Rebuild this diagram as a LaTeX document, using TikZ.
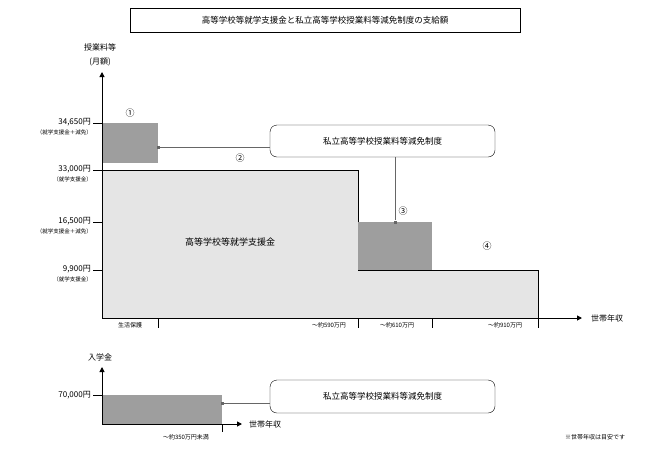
\documentclass[tikz,border=0pt]{standalone}
\usepackage{fontspec}
\setmainfont{Noto Sans CJK JP}
\usetikzlibrary{arrows.meta}
\begin{document}
\begin{tikzpicture}[x=1pt,y=-1pt,
  lab/.style={font=\fontsize{8}{9}\selectfont,inner sep=1pt},
  sub/.style={font=\fontsize{5.5}{6}\selectfont,inner sep=0pt},
  xlab/.style={font=\fontsize{6}{7}\selectfont,inner sep=1pt},
  dark/.style={fill=black!38},
  rbox/.style={draw,rounded corners=7pt,font=\fontsize{8.5}{10}\selectfont},
  conn/.style={draw=black!60,line width=0.9pt},
  axis/.style={line width=1pt,-{Triangle[length=5pt,width=5pt]}},
  mk/.style={fill=black!60,minimum size=3pt,inner sep=0pt}]
\useasboundingbox (0,0) rectangle (650,448);
\node[draw,minimum width=390pt,minimum height=24pt,font=\fontsize{8.5}{10}\selectfont] (title) at (325,20) {高等学校等就学支援金と私立高等学校授業料等減免制度の支給額};
% top chart
\fill[black!10] (102,170) -- (358,170) -- (358,270) -- (538,270) -- (538,318) -- (102,318) -- cycle;
\draw[line width=0.8pt] (102,170) -- (358,170) -- (358,270) -- (538,270) -- (538,318);
\fill[dark] (102,123) rectangle (158,163);
\fill[dark] (358,222) rectangle (432,270);
\node[lab,font=\fontsize{8}{9}\selectfont] (ylab) at (100,47) {授業料等};
\node[lab] (ylab2) at (100,62) {(月額)};
\coordinate (o) at (102,318);
\coordinate (ytop) at (102,72);
\coordinate (xend) at (582,318);
\draw[axis] (o) -- (ytop);
\draw[axis] (o) -- (xend);
\node[lab,anchor=west] (xl) at (590,318) {世帯年収};
\foreach \y/\t/\s in {123/34{,}650円/（就学支援金＋減免）,170/33{,}000円/（就学支援金）,222/16{,}500円/（就学支援金＋減免）,270/9{,}900円/（就学支援金）}{
  \draw (93,\y) -- (102,\y);
  \node[lab,anchor=east] at (92,\y-1) {\t};
  \node[sub,anchor=east] at (92,\y+9) {\s};
}
\foreach \x in {158,358,432,538} \draw (\x,318) -- (\x,328);
\node[xlab] (t1) at (130,325) {生活保護};
\node[xlab] (t2) at (329,325) {～約590万円};
\node[xlab] (t3) at (397,325) {～約610万円};
\node[xlab] (t4) at (505,325) {～約910万円};
\node[lab,font=\fontsize{9}{10}\selectfont] (c1) at (130,113) {①};
\node[lab,font=\fontsize{9}{10}\selectfont] (c2) at (240,158) {②};
\node[lab,font=\fontsize{9}{10}\selectfont] (c3) at (403,211) {③};
\node[lab,font=\fontsize{9}{10}\selectfont] (c4) at (487,246) {④};
\node[font=\fontsize{9}{10}\selectfont] (main) at (230,242) {高等学校等就学支援金};
\node[rbox,minimum width=225pt,minimum height=32pt] (box1) at (382.5,141) {私立高等学校授業料等減免制度};
\node[mk] (m1) at (158,147) {};
\node[mk] (m3) at (395,222) {};
\draw[conn] (m1) -- (m1 -| box1.west);
\draw[conn] (box1.south -| m3) -- (m3);
% bottom chart
\fill[dark] (102,395) rectangle (222,424);
\node[lab] (yl2) at (100,357) {入学金};
\coordinate (o2) at (102,424);
\coordinate (ytop2) at (102,367);
\coordinate (xend2) at (242,424);
\draw[axis] (o2) -- (ytop2);
\draw[axis] (o2) -- (xend2);
\node[lab,anchor=west] (xl2) at (248,424) {世帯年収};
\draw (93,395) -- (102,395);
\node[lab,anchor=east] (v7) at (92,395) {70{,}000円};
\draw (222,424) -- (222,432);
\node[xlab] (t5) at (186,437) {～約350万円未満};
\node[rbox,minimum width=225pt,minimum height=33pt] (box2) at (382.5,396.5) {私立高等学校授業料等減免制度};
\node[mk] (m2) at (222,403) {};
\draw[conn] (m2) -- (m2 -| box2.west);
\node[xlab] (note) at (595,437) {※世帯年収は目安です};
\end{tikzpicture}
\end{document}
